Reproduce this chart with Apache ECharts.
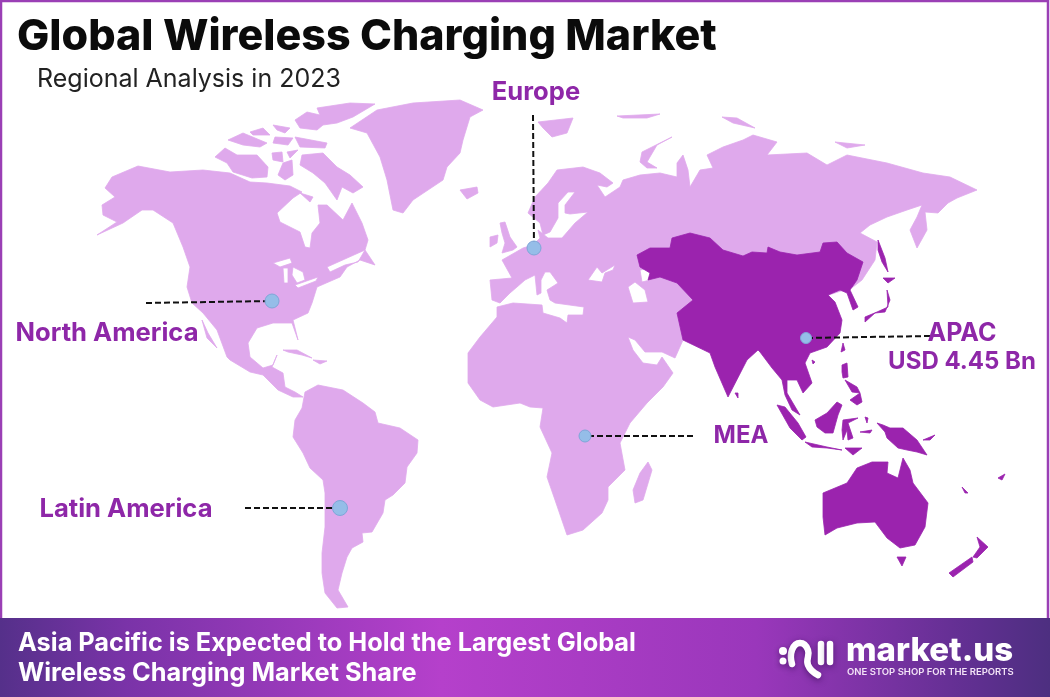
<!DOCTYPE html>
<html>
<head>
<meta charset="utf-8">
<title>Global Wireless Charging Market</title>
<script src="https://cdn.jsdelivr.net/npm/echarts@6/dist/echarts.min.js"></script>
<style>
  html, body { margin: 0; padding: 0; background: #fff; }
  #main { width: 1050px; height: 697px; }
</style>
</head>
<body>
<div id="main"></div>
<script>
// regions and the one published value
var regionNames = ['North America', 'Europe', 'APAC', 'MEA', 'Latin America'];
var regionValues = [null, null, 4.45, null, null];

// region dots and the far end of their leader lines, in map units
var regionDots = [[272, 301], [534, 248], [806, 338], [585, 436], [340, 508]];
var dotSizes = [14, 14, 11, 12, 15];
var leaderEnds = [[146, 303], [533, 115], [930, 336], [693, 436], [245, 508]];

// land outlines, map units, y going down
var northAmerica = [[112,177],[138,166],[170,172],[203,170],[230,173],[250,182],[267,183],[290,186],[302,192],[293,198],[277,213],[280,222],[300,232],[305,247],[310,248],[312,233],[320,223],[318,205],[327,205],[343,220],[352,203],[362,223],[368,240],[365,250],[375,265],[360,260],[347,267],[340,277],[317,287],[312,303],[308,313],[293,320],[298,340],[292,323],[273,323],[257,328],[248,343],[250,357],[263,368],[273,365],[277,355],[272,367],[283,373],[285,387],[295,392],[303,397],[293,397],[278,390],[263,375],[250,372],[230,360],[227,357],[217,330],[203,313],[192,303],[187,287],[190,267],[183,247],[173,223],[153,210],[142,210],[123,223],[97,235],[117,222],[103,215],[102,205],[115,197],[105,188]];
var lakeSuperior = [[273,263],[290,258],[292,263],[280,267]];
var lakeMichigan = [[283,268],[288,268],[288,283],[284,283]];
var lakeHuron = [[293,267],[303,272],[305,280],[297,283],[292,275]];
var lakeOntario = [[295,285],[318,277],[316,281],[298,288]];
var gulfStLawrence = [[327,267],[365,250],[358,262],[345,265],[330,272]];
var southAmerica = [[305,392],[318,385],[343,390],[363,403],[375,412],[378,423],[400,428],[418,440],[417,453],[407,467],[405,483],[393,495],[385,500],[383,513],[372,532],[362,533],[363,542],[352,548],[347,557],[342,573],[338,590],[348,607],[337,608],[325,593],[322,573],[322,553],[325,527],[325,493],[323,480],[310,468],[303,453],[293,437],[295,420],[302,408]];
var greenland = [[350,128],[377,110],[413,103],[460,100],[483,110],[470,117],[463,140],[460,153],[447,167],[443,180],[413,200],[403,213],[393,210],[387,180],[380,157],[367,133]];
var arcticIslands = [
  [[215,157],[225,148],[237,155],[257,155],[268,167],[267,177],[252,178],[233,172],[227,163]],
  [[228,140],[243,133],[267,143],[260,147],[243,145]],
  [[250,132],[263,128],[270,135],[253,135]],
  [[273,125],[290,128],[285,133],[277,130]],
  [[275,137],[293,138],[288,145],[273,143]],
  [[295,137],[327,143],[325,148],[300,147]],
  [[272,153],[282,152],[283,162],[273,160]],
  [[287,152],[298,150],[290,158]],
  [[283,163],[292,160],[293,175],[285,180],[278,175]],
  [[302,155],[323,153],[337,167],[350,175],[363,187],[353,193],[342,187],[337,200],[325,183],[313,173],[300,165]],
  [[295,120],[307,112],[320,115],[317,108],[350,103],[375,104],[353,117],[337,123],[323,125],[317,130],[300,128]],
  [[300,193],[313,197],[310,202]],
  [[538,122],[573,118],[567,133],[552,137],[543,128]],
  [[617,116],[660,114],[647,118],[623,118]],
  [[722,117],[737,118],[755,128],[733,123]],
  [[640,162],[642,152],[672,137],[657,145],[647,162],[657,168],[647,168]],
  [[835,142],[865,145],[847,148]]
];
var smallIslands = [
  [[460,190],[477,187],[478,193],[467,199]],
  [[500,223],[505,222],[510,237],[517,247],[513,250],[502,253],[505,243],[502,233]],
  [[490,237],[498,235],[497,243],[490,247]],
  [[283,350],[297,350],[312,358],[302,355],[288,352]],
  [[313,360],[327,361],[320,364]],
  [[648,462],[652,470],[643,500],[635,503],[633,490],[640,473]],
  [[202,320],[208,333],[217,348],[207,338]]
];
var afroEurasia = [[497,307],[513,303],[542,305],[543,313],[560,318],[567,323],[568,315],[583,315],[584,307],[555,303],[550,300],[547,290],[555,285],[558,283],[550,272],[545,272],[541,280],[541,293],[537,295],[535,275],[525,280],[517,287],[510,293],[500,303],[492,300],[490,280],[512,278],[502,260],[523,248],[533,245],[540,238],[538,230],[548,238],[562,238],[575,223],[588,212],[570,214],[565,213],[565,205],[575,192],[568,192],[558,203],[558,218],[550,232],[543,235],[540,223],[528,213],[535,197],[548,183],[557,170],[583,167],[600,173],[613,183],[607,187],[597,185],[605,197],[620,187],[623,180],[640,175],[660,173],[677,177],[677,163],[683,155],[688,170],[690,187],[700,170],[713,168],[707,155],[723,147],[743,140],[753,135],[777,142],[767,155],[807,153],[827,165],[847,155],[887,163],[923,173],[950,177],[977,190],[957,198],[948,203],[938,213],[925,212],[927,230],[917,248],[910,230],[917,217],[922,205],[907,210],[887,217],[870,225],[860,233],[877,242],[875,260],[862,280],[853,287],[753,320],[683,340],[675,358],[662,352],[645,352],[635,340],[628,337],[633,350],[643,363],[657,365],[662,357],[673,373],[663,387],[647,403],[630,423],[620,443],[625,470],[608,487],[608,500],[602,513],[583,530],[567,535],[555,500],[547,477],[552,453],[540,427],[543,408],[530,407],[520,403],[493,407],[480,400],[468,383],[468,353],[480,337],[497,317]];
var blackSea = [[588,280],[597,267],[602,273],[615,265],[613,270],[605,273],[602,282]];
var caspianSouth = [[628,287],[635,282],[645,290],[648,302],[633,303]];
var caspianNorth = [[640,270],[652,268],[650,280],[642,282]];

var asiaMain = [[637,255],[650,248],[670,248],[672,238],[690,233],[710,238],[723,250],[743,256],[752,252],[767,253],[768,247],[780,252],[797,255],[820,252],[823,243],[837,242],[847,253],[863,262],[857,280],[850,290],[858,307],[853,310],[847,293],[840,290],[828,295],[835,302],[842,320],[840,333],[827,347],[810,353],[805,363],[812,383],[803,393],[797,380],[787,380],[787,393],[800,415],[792,410],[785,395],[782,380],[772,368],[760,352],[758,350],[747,360],[728,397],[715,367],[710,353],[683,340],[677,313],[693,300],[677,283],[660,277],[648,280],[650,273],[640,267]];
var australia = [[823,493],[847,483],[857,468],[872,462],[888,462],[887,473],[898,478],[903,458],[910,470],[913,483],[928,503],[925,527],[915,545],[900,548],[887,538],[875,522],[857,523],[837,528],[825,535],[823,517]];
var apacIslands = [
  [[843,343],[845,350],[841,352]],
  [[812,360],[815,362],[813,364]],
  [[887,290],[888,307],[877,312],[865,317],[865,322],[875,313],[885,312],[890,300]],
  [[883,278],[895,278],[888,283]],
  [[878,240],[885,258],[888,272],[882,262],[878,250]],
  [[842,365],[847,363],[848,377],[843,378],[842,372]],
  [[845,380],[857,387],[860,393],[852,392]],
  [[850,400],[860,393],[862,402],[857,405]],
  [[777,405],[785,407],[798,423],[806,437],[802,440],[790,428]],
  [[805,442],[827,447],[842,450],[827,448],[812,447]],
  [[845,448],[862,448],[853,455]],
  [[815,420],[827,413],[837,402],[842,405],[838,415],[833,433],[825,433],[817,427]],
  [[843,420],[858,418],[848,423],[853,438],[848,440],[847,430],[843,440],[842,430]],
  [[877,423],[883,425],[890,428],[903,428],[917,440],[927,455],[917,452],[907,450],[898,448],[887,438],[885,432]],
  [[923,440],[935,435],[930,440]],
  [[860,432],[872,430],[870,433]],
  [[865,417],[868,418],[867,423]],
  [[897,557],[906,557],[902,566]],
  [[977,537],[988,547],[977,558],[973,557],[980,547]],
  [[972,557],[973,562],[953,577],[949,573]],
  [[735,393],[738,393],[738,398]],
  [[962,487],[968,493],[965,493]],
  [[998,478],[1005,474],[1002,480]]
];

function toGeo(p) { return [p[0], -p[1]]; }

function area(r) {
  var s = 0;
  for (var i = 0; i < r.length; i++) {
    var a = r[i], b = r[(i + 1) % r.length];
    s += a[0] * b[1] - b[0] * a[1];
  }
  return s;
}

// outer rings one way round, holes the other
function ring(r, hole) {
  var pts = r.map(toGeo);
  var ccw = area(pts) > 0;
  if (ccw === !!hole) pts.reverse();
  pts.push(pts[0]);
  return pts;
}

function poly(outer, holes) {
  var rings = [ring(outer)];
  (holes || []).forEach(function (h) { rings.push(ring(h, true)); });
  return rings;
}

var worldRest = [
  poly(northAmerica, [lakeSuperior, lakeMichigan, lakeHuron, lakeOntario, gulfStLawrence]),
  poly(southAmerica),
  poly(greenland),
  poly(afroEurasia, [blackSea, caspianSouth, caspianNorth])
].concat(arcticIslands.map(function (r) { return poly(r); }))
 .concat(smallIslands.map(function (r) { return poly(r); }));

var worldApac = [poly(asiaMain), poly(australia)]
  .concat(apacIslands.map(function (r) { return poly(r); }));

echarts.registerMap('regions', {
  type: 'FeatureCollection',
  features: [
    { type: 'Feature', properties: { name: 'Rest of World' }, geometry: { type: 'MultiPolygon', coordinates: worldRest } },
    { type: 'Feature', properties: { name: 'Asia Pacific' }, geometry: { type: 'MultiPolygon', coordinates: worldApac } }
  ]
});

var purple = '#8e27a8';

var dotData = regionNames.map(function (name, i) {
  return { name: name, value: toGeo(regionDots[i]), symbolSize: dotSizes[i] };
});
var lineData = regionNames.map(function (name, i) {
  return { name: name, coords: [toGeo(leaderEnds[i]), toGeo(regionDots[i])] };
});

function label(text, x, y, size) {
  return {
    type: 'text', x: x, y: y, z: 20,
    style: { text: text, fill: purple, font: '700 ' + size + 'px Inter', textAlign: 'center', textVerticalAlign: 'middle' }
  };
}

var apacText = 'USD ' + regionValues[2] + ' Bn';
var logoShadow = { shadowBlur: 6, shadowColor: 'rgba(50,10,80,0.6)', shadowOffsetY: 2 };

var chart = echarts.init(document.getElementById('main'));
chart.setOption({
  animation: false,
  backgroundColor: '#ffffff',
  title: [
    { text: 'Global Wireless Charging Market', left: 12, top: 11,
      textStyle: { fontFamily: 'Inter', fontWeight: 800, fontSize: 43, color: '#0b0b0b' } },
    { text: 'Regional Analysis in 2023', left: 32, top: 62,
      textStyle: { fontFamily: 'Inter', fontWeight: 400, fontSize: 25, color: '#222222' } }
  ],
  geo: {
    map: 'regions',
    silent: true,
    roam: false,
    aspectScale: 1,
    left: 0, top: 0, width: 1050, height: 697,
    boundingCoords: [[0, 0], [1050, -697]],
    label: { show: false },
    itemStyle: { areaColor: '#dfa9ec', borderColor: '#dfa9ec', borderWidth: 0.8, borderJoin: 'round' },
    regions: [
      { name: 'Asia Pacific', itemStyle: { areaColor: '#9b23ae', borderColor: '#9b23ae', borderWidth: 0.8, borderJoin: 'round' } }
    ]
  },
  series: [
    {
      type: 'lines', coordinateSystem: 'geo', polyline: false, silent: true, z: 5,
      lineStyle: { color: '#111111', width: 2, type: [6, 3], opacity: 1, curveness: 0 },
      data: lineData
    },
    {
      type: 'scatter', coordinateSystem: 'geo', silent: true, z: 6,
      itemStyle: { color: '#95bde8', borderColor: '#7fa6d8', borderWidth: 1, opacity: 1 },
      data: dotData
    }
  ],
  graphic: [
    { type: 'rect', z: 15, shape: { x: 1, y: 1, width: 1047, height: 695 },
      style: { fill: 'none', stroke: '#9a3fb5', lineWidth: 2.5 } },
    label(regionNames[0], 107, 333, 25.6),
    label(regionNames[1], 536, 92, 25.6),
    label(regionNames[2], 962, 333, 25),
    label(apacText, 962, 362, 24),
    label(regionNames[3], 741, 436, 24),
    label(regionNames[4], 126, 509, 25.6),
    { type: 'rect', z: 16, shape: { x: 0, y: 618, width: 1050, height: 79 },
      style: {
        fill: new echarts.graphic.LinearGradient(0, 0, 1, 0, [
          { offset: 0, color: '#55308a' },
          { offset: 0.12, color: '#7a33a8' },
          { offset: 0.42, color: '#b540cb' },
          { offset: 0.72, color: '#9a37bb' },
          { offset: 0.93, color: '#5f2f90' },
          { offset: 1, color: '#4d2f80' }
        ])
      } },
    { type: 'text', z: 17, x: 18, y: 643,
      style: { text: 'Asia Pacific is Expected to Hold the Largest Global', fill: '#fff',
        font: '700 25.3px Inter', textVerticalAlign: 'middle' } },
    { type: 'text', z: 17, x: 18, y: 673,
      style: { text: 'Wireless Charging Market Share', fill: '#fff',
        font: '700 25.3px Inter', textVerticalAlign: 'middle' } },
    { type: 'text', z: 17, x: 846, y: 651,
      style: { text: 'market.us', fill: '#fff', font: '800 33px Inter', textVerticalAlign: 'middle' } },
    { type: 'text', z: 17, x: 847, y: 672,
      style: { text: 'ONE STOP SHOP FOR THE REPORTS', fill: '#f3e3f7', font: '600 9.5px Inter', textVerticalAlign: 'middle' } },
    // logo mark
    { type: 'polyline', z: 17, shape: { smooth: 0.5, points: [[792, 664], [792, 650], [800, 643], [808, 650], [808, 665], [818, 675]] },
      style: Object.assign({ fill: 'none', stroke: '#fff', lineWidth: 6.5, lineCap: 'round' }, logoShadow) },
    { type: 'line', z: 17, shape: { x1: 821, y1: 644, x2: 821, y2: 662 },
      style: Object.assign({ stroke: '#fff', lineWidth: 6.5, lineCap: 'round' }, logoShadow) },
    { type: 'line', z: 17, shape: { x1: 830, y1: 644, x2: 830, y2: 662 },
      style: Object.assign({ stroke: '#fff', lineWidth: 6.5, lineCap: 'round' }, logoShadow) },
    { type: 'circle', z: 17, shape: { cx: 783, cy: 651, r: 4 }, style: Object.assign({ fill: '#fff' }, logoShadow) },
    { type: 'circle', z: 17, shape: { cx: 783, cy: 661, r: 3.5 }, style: Object.assign({ fill: '#fff' }, logoShadow) }
  ]
});
</script>
</body>
</html>
